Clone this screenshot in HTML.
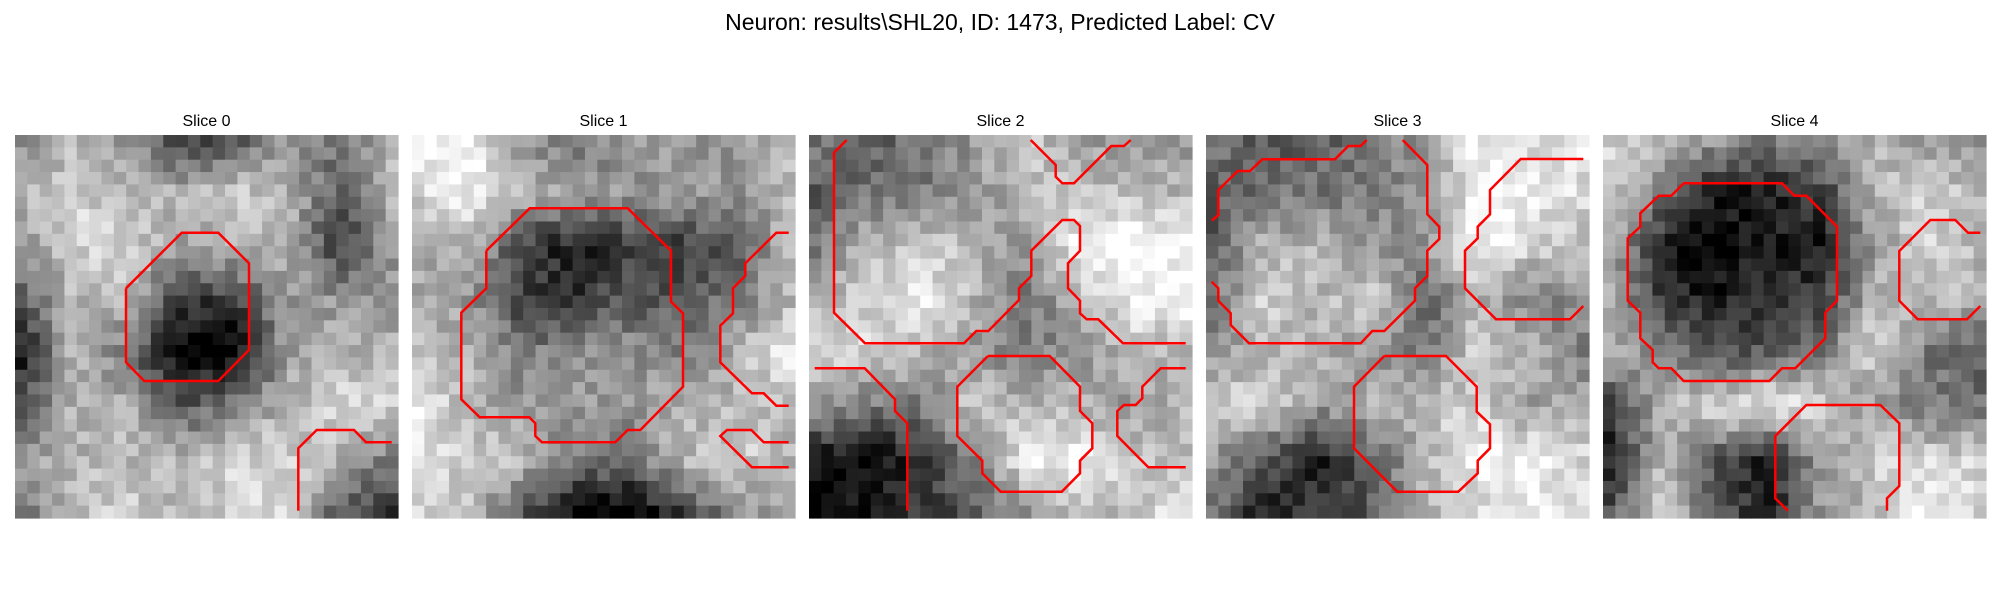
<!DOCTYPE html>
<html><head><meta charset="utf-8">
<style>
html,body{margin:0;padding:0;background:#fff;}
body{width:2000px;height:600px;overflow:hidden;font-family:"Liberation Sans","DejaVu Sans",sans-serif;}
</style></head>
<body>
<svg id="fig" width="2000" height="600" xmlns="http://www.w3.org/2000/svg">
<rect x="0" y="0" width="2000" height="600" fill="#fff"/>
<text x="1000" y="30" text-anchor="middle" font-size="23" font-family="Liberation Sans, DejaVu Sans, sans-serif" fill="#000">Neuron: results\SHL20, ID: 1473, Predicted Label: CV</text>
</svg>
<script>
// Coarse 8x8 intensity maps (0=black, 9=white) per slice
const slice0 = [[5,6,5,2,3,5,4,6],[6,7,6,6,7,6,3,6],[5,7,7,5,6,6,2,5],[3,6,6,2,2,5,5,5],[1,6,4,0,0,5,6,6],[3,6,6,3,4,6,7,7],[5,6,6,6,7,7,6,4],[4,6,7,6,7,7,3,2]];
const slice1 = [[8,8,5,4,5,5,5,6],[7,8,6,5,5,5,5,6],[5,6,2,1,2,2,3,6],[6,5,2,2,3,3,4,6],[6,6,4,5,5,4,6,8],[8,6,5,5,5,6,6,6],[7,7,6,4,4,6,7,6],[7,6,3,0,0,2,5,5]];
const slice2 = [[4,3,4,5,7,5,5,5],[3,4,4,5,6,7,6,6],[4,6,7,6,5,8,9,8],[6,7,8,6,4,6,8,8],[7,7,6,5,4,5,6,6],[5,4,4,7,6,6,5,6],[1,0,2,4,8,8,7,6],[0,1,2,3,5,6,6,8]];
const slice3 = [[4,3,3,4,5,8,7,8],[3,4,4,4,5,8,8,7],[3,6,6,5,5,8,7,6],[4,7,6,7,3,6,4,5],[5,6,6,5,4,7,6,4],[7,7,5,6,6,7,5,6],[5,3,1,3,6,8,8,7],[4,1,2,3,6,7,8,7]];
const slice4 = [[7,6,5,4,5,6,5,5],[7,4,1,1,2,6,7,6],[6,1,0,1,1,5,7,6],[6,2,1,2,2,6,6,6],[6,4,3,3,4,7,4,3],[2,6,7,8,7,5,4,4],[1,6,3,1,5,7,7,7],[3,7,3,1,5,6,8,7]];
const sliceMaps = [slice0, slice1, slice2, slice3, slice4];
const sliceTitles = ["Slice 0","Slice 1","Slice 2","Slice 3","Slice 4"];
// contour polylines (zoom-space coordinates, /3 -> panel px)
const contours0 = [[[378,565],[545,398],[655,398],[747,490],[747,750],[655,843],[433,843],[378,787],[378,565]],[[895,1232],[895,1045],[950,990],[1062,990],[1098,1027],[1175,1027]]];
const contours1 = [[[243,362],[373,235],[667,235],[797,362],[797,515],[833,550],[833,770],[705,900],[667,900],[630,937],[410,937],[390,918],[390,880],[372,862],[223,862],[168,808],[168,548],[243,475],[243,362]],[[1150,308],[1113,308],[1020,400],[1020,437],[983,475],[983,550],[945,587],[945,697],[1040,790],[1075,790],[1113,827],[1150,827]],[[1150,937],[1075,937],[1038,900],[965,900],[945,918],[1040,1012],[1150,1012]]];
const contours2 = [[[133,30],[95,68],[95,548],[188,640],[485,640],[522,603],[558,603],[650,510],[650,475],[687,438],[687,362],[780,270],[815,270],[833,288],[833,362],[797,400],[797,475],[833,512],[833,550],[853,568],[888,568],[962,640],[1150,640]],[[685,30],[760,105],[760,140],[780,160],[815,160],[927,48],[965,48],[985,30]],[[37,715],[187,715],[278,808],[278,843],[315,880],[315,1142]],[[557,678],[742,678],[833,770],[833,843],[870,880],[870,955],[833,992],[833,1030],[778,1085],[595,1085],[540,1030],[540,992],[465,918],[465,770],[557,678]],[[1150,715],[1075,715],[1020,770],[1020,805],[1000,825],[965,825],[945,843],[945,918],[1038,1012],[1150,1012]]];
const contours3 = [[[505,30],[487,48],[450,48],[410,88],[192,88],[155,123],[118,123],[60,180],[60,255],[40,272]],[[40,455],[60,475],[60,512],[97,550],[97,585],[152,640],[487,640],[522,603],[558,603],[650,512],[650,475],[687,438],[687,362],[723,327],[723,290],[687,253],[687,105],[613,30]],[[1155,87],[967,87],[875,180],[875,253],[838,290],[838,325],[800,362],[800,475],[893,568],[1115,568],[1155,528]],[[558,678],[743,678],[835,770],[835,845],[875,883],[875,955],[838,992],[838,1030],[780,1085],[597,1085],[467,955],[467,770],[558,678]]];
const contours4 = [[[265,160],[560,160],[597,197],[633,197],[725,290],[725,512],[690,548],[690,625],[600,715],[560,715],[522,753],[265,753],[228,715],[190,715],[172,697],[172,660],[135,625],[135,548],[97,512],[97,325],[135,290],[135,250],[190,197],[228,197],[265,160]],[[1155,308],[1118,308],[1080,270],[1005,270],[912,363],[912,512],[967,568],[1115,568],[1155,528]],[[578,1142],[540,1105],[540,918],[633,825],[855,825],[912,880],[912,1068],[875,1105],[875,1142]]];
const contourSets = [contours0, contours1, contours2, contours3, contours4];
const zoomOffsets = [[45,5],[20,15],[20,15],[23,15],[23,15]];

const NS = "http://www.w3.org/2000/svg";
const svg = document.getElementById("fig");
const panelX = [15, 412, 809, 1206, 1603];
const panelY = 135, panelW = 383, N = 31, cell = panelW / N;
function hash(a, b, c) {
  let h = (a * 374761393 + b * 668265263 + c * 2147483647) | 0;
  h = (h ^ (h >>> 13)) * 1274126177 | 0;
  return ((h ^ (h >>> 16)) >>> 0) / 4294967296;
}
function sample(m, x, y) {
  const x0 = Math.floor(x), y0 = Math.floor(y);
  const x1 = Math.min(7, x0 + 1), y1 = Math.min(7, y0 + 1);
  const fx = x - x0, fy = y - y0;
  return m[y0][x0] * (1 - fx) * (1 - fy) + m[y0][x1] * fx * (1 - fy) + m[y1][x0] * (1 - fx) * fy + m[y1][x1] * fx * fy;
}
sliceMaps.forEach((m, p) => {
  const g = document.createElementNS(NS, "g");
  
  
  svg.appendChild(g);
  for (let r = 0; r < N; r++) {
    for (let c = 0; c < N; c++) {
      const v = sample(m, c / (N - 1) * 7, r / (N - 1) * 7);
      let gray = (v - 4.5) * 31 + 135 + (hash(p, r, c) - 0.5) * 56;
      gray = Math.max(0, Math.min(255, Math.round(gray)));
      const rect = document.createElementNS(NS, "rect");
      rect.setAttribute("x", (panelX[p] + c * cell).toFixed(2));
      rect.setAttribute("y", (panelY + r * cell).toFixed(2));
      rect.setAttribute("width", (cell + 0.6).toFixed(2));
      rect.setAttribute("height", (cell + 0.6).toFixed(2));
      rect.setAttribute("fill", `rgb(${gray},${gray},${gray})`);
      g.appendChild(rect);
    }
  }
  const t = document.createElementNS(NS, "text");
  
  
  t.setAttribute("x", panelX[p] + panelW / 2);
  t.setAttribute("y", 126);
  t.setAttribute("text-anchor", "middle");
  t.setAttribute("font-size", "16");
  t.setAttribute("font-family", "Liberation Sans, DejaVu Sans, sans-serif");
  t.textContent = sliceTitles[p];
  svg.appendChild(t);
  const off = zoomOffsets[p];
  contourSets[p].forEach((pts, k) => {
    const pl = document.createElementNS(NS, "polyline");
    
    
    pl.setAttribute("points", pts.map(q => (panelX[p] + (q[0] - off[0]) / 3).toFixed(1) + "," + (panelY + (q[1] - off[1] - (p === 0 ? 100 : 0)) / 3).toFixed(1)).join(" "));
    pl.setAttribute("fill", "none");
    pl.setAttribute("stroke", "#ff0000");
    pl.setAttribute("stroke-width", "2.5");
    svg.appendChild(pl);
  });
});
</script>
</body></html>
